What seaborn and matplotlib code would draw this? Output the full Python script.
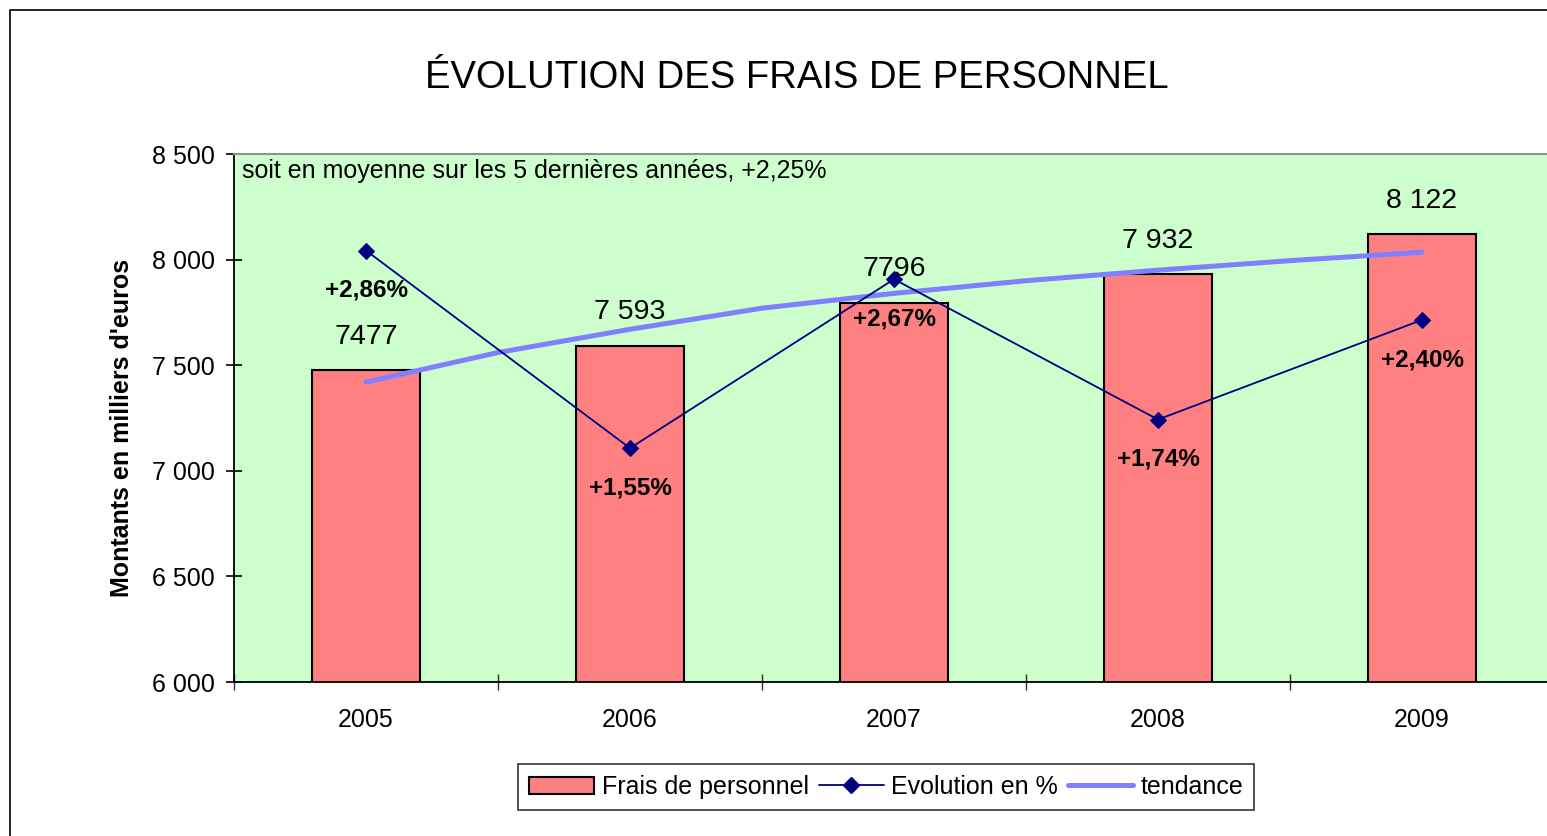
import matplotlib
matplotlib.use("Agg")
import matplotlib.pyplot as plt
import pandas as pd
import seaborn as sns
from matplotlib.patches import Patch, Rectangle
from matplotlib.lines import Line2D
from matplotlib.ticker import FuncFormatter, FixedLocator

years = ["2005", "2006", "2007", "2008", "2009"]
frais = [7477, 7593, 7796, 7932, 8122]
frais_labels = ["7477", "7 593", "7796", "7 932", "8 122"]
evolution = [2.86, 1.55, 2.67, 1.74, 2.40]
evolution_labels = ["+2,86%", "+1,55%", "+2,67%", "+1,74%", "+2,40%"]
# trend curve every half year
trend_years = [2005, 2005.5, 2006, 2006.5, 2007, 2007.5, 2008, 2008.5, 2009]
trend = [7420, 7560, 7670, 7770, 7840, 7900, 7950, 7995, 8035]

sns.set_theme(style="white")
plt.rcParams['font.family'] = ['Liberation Sans', 'DejaVu Sans']
plt.rcParams['text.color'] = "black"
plt.rcParams['xtick.color'] = "black"
plt.rcParams['ytick.color'] = "black"
plt.rcParams['axes.labelcolor'] = "black"

W, H = 1547, 836
fig = plt.figure(figsize=(W / 100, H / 100), dpi=100)
ax = fig.add_axes([234 / W, 1 - 682 / H, 1320 / W, 528 / H])
ax.set_facecolor("#CCFFCC")

df = pd.DataFrame({"year": years, "frais": frais})
sns.barplot(data=df, x="year", y="frais", color="#FF8080", saturation=1,
            edgecolor="black", linewidth=1.5, width=0.41, ax=ax, zorder=2)

tr = pd.DataFrame({"pos": [y - 2005 for y in trend_years], "trend": trend})
sns.lineplot(data=tr, x="pos", y="trend", color="#8080FF", linewidth=3.6, ax=ax, zorder=3)

ax.set_xlim(-0.5, 4.5)
ax.set_ylim(6000, 8500)
ax.set_yticks(range(6000, 8501, 500))
ax.yaxis.set_major_formatter(FuncFormatter(lambda v, p: f"{int(v):,}".replace(",", " ")))
ax.set_xticks(range(5))
ax.set_xticklabels(years)
ax.xaxis.set_minor_locator(FixedLocator([i - 0.5 for i in range(6)]))
ax.tick_params(axis="x", which="major", length=0, pad=19, labelsize=18)
ax.tick_params(axis="x", which="minor", length=11, width=1, direction="inout", color="#303030", bottom=True)
ax.tick_params(axis="y", length=11, width=1.2, direction="inout", color="black", pad=8, labelsize=18, left=True)
ax.set_xlabel("")
ax.set_ylabel("")
for s in ["left", "bottom"]:
    ax.spines[s].set_color("black")
    ax.spines[s].set_linewidth(1.3)
ax.spines["top"].set_color("#909090")
ax.spines["top"].set_linewidth(1.5)
ax.spines["right"].set_visible(False)

for i, (v, lab) in enumerate(zip(frais, frais_labels)):
    ax.annotate(lab, xy=(i, v), xytext=(0, 24), textcoords="offset points",
                ha="center", va="center", fontsize=20.5, zorder=5)

ax2 = ax.twinx()
ev = pd.DataFrame({"pos": range(5), "evolution": evolution})
sns.lineplot(data=ev, x="pos", y="evolution", color="#000080", linewidth=1.3,
             marker="D", markersize=8, markeredgecolor="#000080", ax=ax2)
ax2.set_ylim(0, 3.5)
ax2.set_xlim(-0.5, 4.5)
ax2.set_yticks([])
ax2.set_ylabel("")
ax2.set_xlabel("")
for s in ax2.spines.values():
    s.set_visible(False)
for i, (v, lab) in enumerate(zip(evolution, evolution_labels)):
    ax2.annotate(lab, xy=(i, v), xytext=(0, -28.5), textcoords="offset points",
                 ha="center", va="center", fontsize=17.5, fontweight="bold")

ax.annotate("soit en moyenne sur les 5 dernières années, +2,25%", xy=(0, 1), xycoords="axes fraction",
            xytext=(6, -12.5), textcoords="offset points", ha="left", va="center", fontsize=18)

fig.text(797 / W, 1 - 78 / H, "ÉVOLUTION DES FRAIS DE PERSONNEL", ha="center", va="center",
         fontsize=27.5)
fig.text(122 / W, 1 - 428 / H, "Montants en milliers d'euros", rotation=90, ha="center", va="center",
         fontsize=18, fontweight="bold")

handles = [Patch(facecolor="#FF8080", edgecolor="black", linewidth=1.5),
           Line2D([], [], color="#000080", linewidth=1.3, marker="D", markersize=8),
           Line2D([], [], color="#8080FF", linewidth=3.6)]
leg = fig.legend(handles, ["Frais de personnel", "Evolution en %", "tendance"], loc="center",
                 bbox_to_anchor=(886 / W, 1 - 787 / H), ncol=3, fontsize=18, frameon=True,
                 fancybox=False, edgecolor="black", handlelength=2.6, handletextpad=0.3,
                 columnspacing=0.4, borderpad=0.45)
leg.get_frame().set_linewidth(1.2)

fig.patches.append(Rectangle((10 / W, -0.1), 1.2, 1.1 - 10 / H, transform=fig.transFigure,
                             fill=False, edgecolor="black", linewidth=1.2))

fig.savefig("out.png", dpi=100)
